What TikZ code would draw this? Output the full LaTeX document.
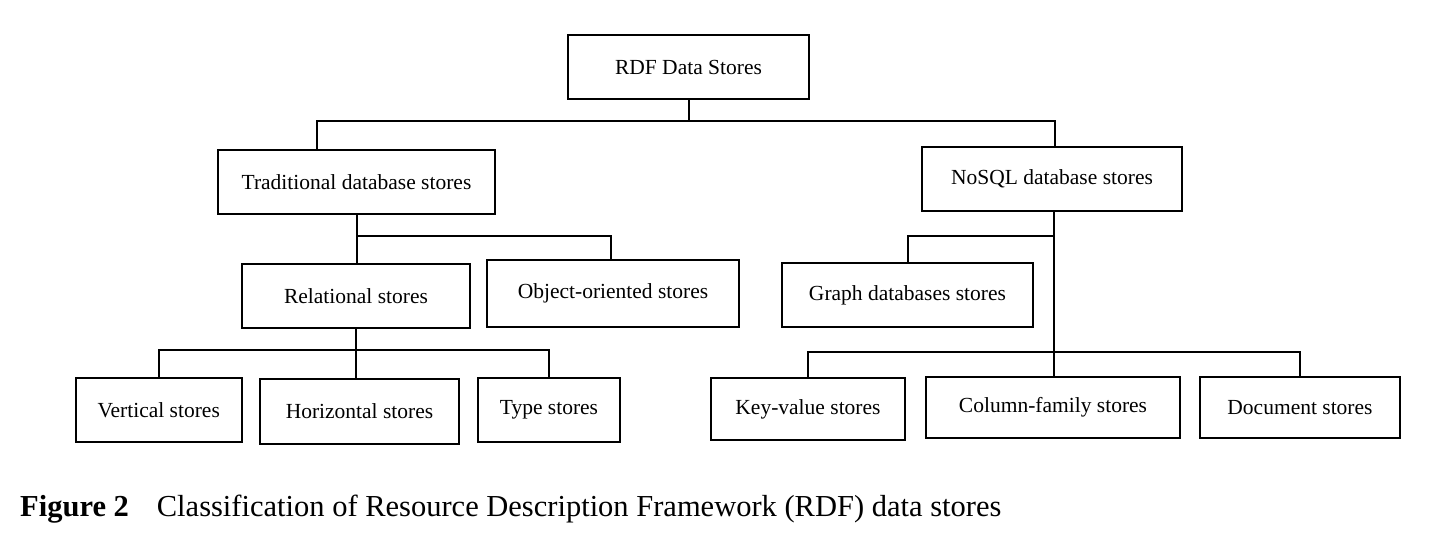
\documentclass[tikz,border=0pt]{standalone}
\usepackage{fontspec}
\setmainfont{Liberation Serif}
\begin{document}
\begin{tikzpicture}[x=1pt,y=-1pt,
  box/.style={draw, line width=2pt, inner sep=0pt, font=\fontsize{21.5}{24}\selectfont},
  link/.style={line width=2pt}]
\useasboundingbox (0,0) rectangle (1436,558);
\fill[white] (0,0) rectangle (1436,558);
% nodes
\node[box, minimum width=241pt, minimum height=64pt] (rdf) at (688.5,67) {RDF Data Stores};
\node[box, minimum width=277pt, minimum height=64pt] (trad) at (356.5,182) {Traditional database stores};
\node[box, minimum width=260pt, minimum height=64pt] (nosql) at (1052,179) {NoSQL database stores};
\node[box, minimum width=228pt, minimum height=64pt] (rel) at (356,296) {Relational stores};
\node[box, minimum width=252pt, minimum height=67pt] (obj) at (613,293.5) {Object-oriented stores};
\node[box, minimum width=251pt, minimum height=64pt] (graph) at (907.5,295) {Graph databases stores};
\node[box, minimum width=166pt, minimum height=64pt] (vert) at (158.7,410) {Vertical stores};
\node[box, minimum width=199pt, minimum height=65pt] (horiz) at (359.5,411.5) {Horizontal stores};
\node[box, minimum width=141.5pt, minimum height=64pt] (type) at (549,410) {Type stores};
\node[box, minimum width=193.5pt, minimum height=62pt] (kv) at (808,409) {Key-value stores};
\node[box, minimum width=254pt, minimum height=61pt] (col) at (1053,407.5) {Column-family stores};
\node[box, minimum width=200pt, minimum height=61pt] (doc) at (1300,407.5) {Document stores};
% junction coordinates
\coordinate (j0) at (688.5,121);
\coordinate (jt) at (317,121);
\coordinate (jn) at (1055,121);
\coordinate (jo) at (611,236);
\coordinate (jr) at (356,350);
\coordinate (jg) at (1054,236);
\coordinate (jl) at (1054,352);
% connectors
\draw[link] (rdf.south) -- (j0);
\draw[link] (jt |- trad.north) -- (jt) -- (jn) -- (jn |- nosql.north);
\draw[link] (trad.south) -- (trad.south |- rel.north);
\draw[link] (trad.south |- jo) -- (jo) -- (jo |- obj.north);
\draw[link] (rel.south) -- (rel.south |- horiz.north);
\draw[link] (vert.north) -- (vert.north |- jr) -- (type.north |- jr) -- (type.north);
\draw[link] (jg |- nosql.south) -- (jg |- col.north);
\draw[link] (graph.north) |- (jg);
\draw[link] (kv.north) -- (kv.north |- jl) -- (doc.north |- jl) -- (doc.north);
% caption
\node[anchor=base west, inner sep=0pt, font=\fontsize{30.5}{33}\selectfont\bfseries] (capnum) at (20,516) {Figure 2};
\node[anchor=base west, inner sep=0pt, font=\fontsize{30.5}{33}\selectfont] (captext) at (156.7,516) {Classification of Resource Description Framework (RDF) data stores};
\end{tikzpicture}
\end{document}
